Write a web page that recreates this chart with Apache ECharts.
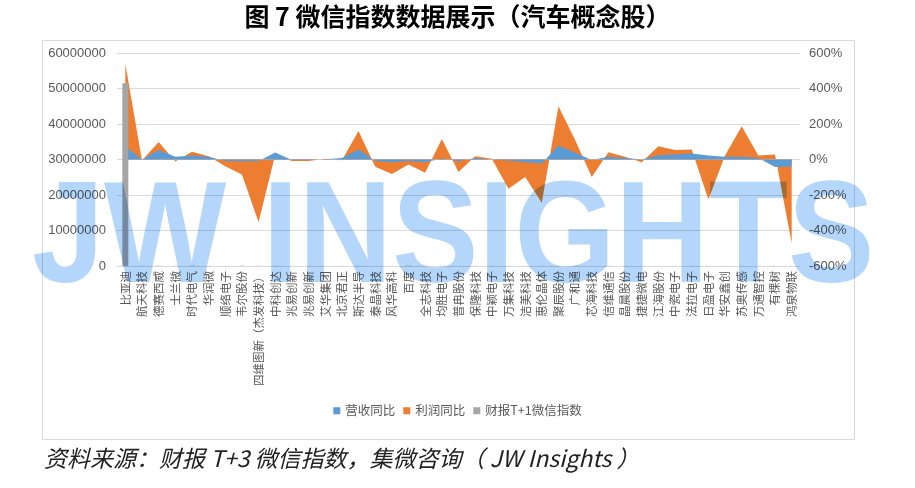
<!DOCTYPE html>
<html>
<head>
<meta charset="utf-8">
<script src="https://cdn.jsdelivr.net/npm/echarts@6/dist/echarts.min.js"></script>
<style>
html,body{margin:0;padding:0;background:#fff;}
#wrap{position:relative;width:915px;height:488px;overflow:hidden;}
#chart{width:915px;height:488px;}
#wm{position:absolute;left:32px;top:161px;font:bold 144px/144px "Liberation Sans";color:#b5d6fb;
    mix-blend-mode:multiply;white-space:nowrap;transform:scaleX(0.9);transform-origin:0 0;pointer-events:none;}
</style>
</head>
<body>
<div id="wrap">
<div id="chart"></div>
<div id="wm">JW INSIGHTS</div>
</div>
<script>
const categories = ['比亚迪','航天科技','德赛西威','士兰微','时代电气','华润微','顺络电子','韦尔股份','四维图新（杰发科技）','中科创达','兆易创新','兆易创新','艾华集团','北京君正','斯达半导','泰晶科技','风华高科','百度','全志科技','均胜电子','普冉股份','保隆科技','中颖电子','万集科技','洁美科技','惠伦晶体','聚辰股份','广和通','芯海科技','信维通信','晶晨股份','捷捷微电','江海股份','中瓷电子','法拉电子','日盈电子','华安鑫创','苏奥传感','万通智控','有棵树','鸿泉物联'];
const revenueYoY = [75, 0, 53, 15, 22, 15, -8, -10, -8, 40, -3, -3, 2, 8, 56, -9, -15, -8, -15, 5, -10, 8, -2, -6, -15, -22, 79, 38, -3, 15, 8, 0, 24, 28, 34, 22, 15, 15, 8, -42, -40];
const profitYoY = [540, -6, 98, -11, 43, 19, -38, -85, -353, 28, -9, -9, 4, -4, 160, -41, -81, -28, -75, 116, -71, 19, 4, -165, -98, -244, 300, 110, -98, 41, 15, -15, 75, 53, 56, -225, 22, 188, 22, 28, -470];
const wechatIndex = [51500000, 60000, 80000, 50000, 90000, 40000, 30000, 70000, 60000, 50000, 40000, 40000, 20000, 30000, 50000, 20000, 30000, 90000, 30000, 40000, 20000, 30000, 20000, 30000, 20000, 30000, 30000, 40000, 20000, 40000, 30000, 20000, 30000, 20000, 20000, 20000, 20000, 20000, 20000, 30000, 20000];
const leftTicks = [0, 60000000, 10000000];
const rightTicks = [-600, 600, 200];
const seriesNames = ['营收同比', '利润同比', '财报T+1微信指数'];
const titleText = '图 7 微信指数数据展示（汽车概念股）';
const sourceText = '资料来源：财报 T+3 微信指数，集微咨询（ JW Insights ）';

const chart = echarts.init(document.getElementById('chart'), null, {renderer: 'canvas'});
const labelColor = '#595959';
const option = {
  animation: false,
  backgroundColor: '#fff',
  color: ['#5B9BD5', '#ED7D31', '#A5A5A5'],
  grid: {left: 117, right: 115, top: 53, bottom: 222, containLabel: false},
  legend: {
    data: seriesNames,
    bottom: 66,
    left: 'center',
    icon: 'rect',
    itemWidth: 7,
    itemHeight: 7,
    itemGap: 8,
    textStyle: {color: labelColor, fontSize: 12.5, fontFamily: 'Noto Sans CJK SC'}
  },
  xAxis: {
    type: 'category',
    data: categories,
    boundaryGap: true,
    axisLine: {show: true, lineStyle: {color: '#d9d9d9'}},
    axisTick: {show: false},
    axisLabel: {interval: 0, rotate: 90, margin: 5, color: labelColor, fontSize: 11.5, fontFamily: 'Noto Sans CJK SC'}
  },
  yAxis: [
    {
      type: 'value', min: leftTicks[0], max: leftTicks[1], interval: leftTicks[2],
      axisLine: {show: false}, axisTick: {show: false},
      splitLine: {lineStyle: {color: '#d9d9d9'}},
      axisLabel: {color: labelColor, fontSize: 13, margin: 11, fontFamily: 'Liberation Sans',
                  formatter: function (v) { return String(v); }}
    },
    {
      type: 'value', min: rightTicks[0], max: rightTicks[1], interval: rightTicks[2],
      position: 'right',
      axisLine: {show: false}, axisTick: {show: false}, splitLine: {show: false},
      axisLabel: {color: labelColor, fontSize: 13, margin: 9, formatter: '{value}%', fontFamily: 'Liberation Sans'}
    }
  ],
  series: [
    {
      name: seriesNames[0], type: 'line', yAxisIndex: 1, data: revenueYoY,
      showSymbol: false, symbol: 'none', z: 4,
      lineStyle: {width: 0}, areaStyle: {color: '#5B9BD5', opacity: 1}
    },
    {
      name: seriesNames[1], type: 'line', yAxisIndex: 1, data: profitYoY,
      showSymbol: false, symbol: 'none', z: 3,
      lineStyle: {width: 0}, areaStyle: {color: '#ED7D31', opacity: 1}
    },
    {
      name: seriesNames[2], type: 'bar', yAxisIndex: 0, data: wechatIndex,
      barWidth: 6, z: 5, itemStyle: {color: '#A5A5A5'}
    }
  ],
  graphic: [
    {type: 'rect', left: 40, top: 38, z: -10, silent: true,
     shape: {width: 812, height: 399}, style: {fill: 'none', stroke: '#d9d9d9', lineWidth: 1}},
    {type: 'text', left: 'center', top: 4, z: 10,
     style: {text: titleText, font: 'bold 25px "Noto Sans CJK SC"', fill: '#000'}},
    {type: 'text', left: 44, top: 447, z: 10,
     style: {text: sourceText, font: 'italic 23px "Noto Sans CJK SC"', fill: '#222'}}
  ]
};
chart.setOption(option);
</script>
</body>
</html>
